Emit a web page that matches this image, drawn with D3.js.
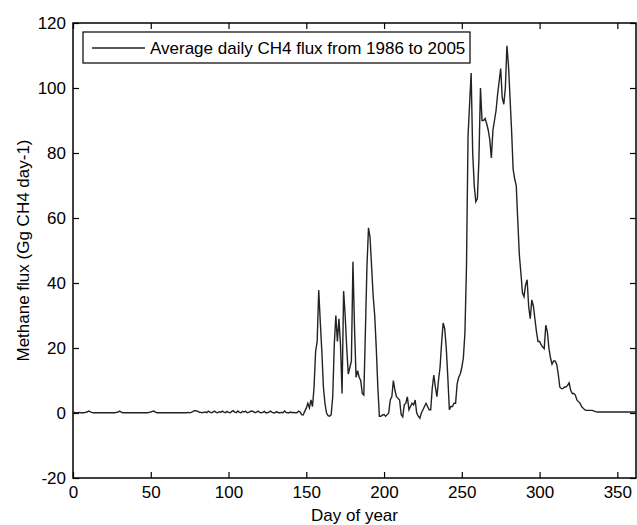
<!DOCTYPE html>
<html>
<head>
<meta charset="utf-8">
<script src="https://cdn.jsdelivr.net/npm/d3@7"></script>
<style>
    body { margin: 0; background: #fff; }
    text { font-family: "Liberation Sans", Arial, sans-serif; fill: #000; }
</style>
</head>
<body>
<div id="flux"><svg></svg></div>
<script>
// Average daily CH4 flux, one value per day starting at day 0
let firstDay = 0
let fluxValues = [
    0.1, 0.2, 0.1, 0.1, 0.2, 0.1, 0.1, 0.1, 0.2, 0.3,
    0.6, 0.4, 0.2, 0.1, 0.1, 0.1, 0.1, 0.1, 0.1, 0.1,
    0.1, 0.1, 0.1, 0.1, 0.1, 0.1, 0.1, 0.1, 0.2, 0.3,
    0.6, 0.3, 0.1, 0.1, 0.1, 0.1, 0.1, 0.1, 0.1, 0.1,
    0.1, 0.1, 0.1, 0.1, 0.1, 0.1, 0.1, 0.1, 0.1, 0.2,
    0.3, 0.5, 0.6, 0.3, 0.1, 0.1, 0.1, 0.1, 0.1, 0.1,
    0.1, 0.1, 0.1, 0.1, 0.1, 0.1, 0.1, 0.1, 0.1, 0.1,
    0.1, 0.1, 0.1, 0.1, 0.2, 0.1, 0.2, 0.4, 0.7, 0.7,
    0.6, 0.3, 0.2, 0.1, 0.2, 0.3, 0.1, 0.6, 0.3, 0.1,
    0.3, 0.6, 0.2, 0.1, 0.4, 0.2, 0.6, 0.3, 0.1, 0.5,
    0.2, 0.1, 0.4, 0.7, 0.3, 0.1, 0.6, 0.2, 0.1, 0.5,
    0.3, 0.6, 0.1, 0.2, 0.5, 0.6, 0.4, 0.1, 0.3, 0.6,
    0.2, 0.1, 0.2, 0.5, 0.1, 0.1, 0.3, 0.6, 0.2, 0.1,
    0.1, 0.4, 0.1, 0.1, 0.2, 0.1, 0.6, 0.2, 0.1, 0.1,
    0.3, 0.1, 0.2, 0.1, 0.1, 0.6, 0.3, -0.5, -0.6, 0.5,
    1.5, 3.0, 1.6, 4.0, 2.0, 8, 19, 22, 37.8, 28,
    19, 8, 3, 0, -0.8, -1, -0.5, 5, 21, 30,
    22, 29, 21, 6, 37.5, 30, 20, 12, 14, 16,
    46.5, 26.5, 11, 13, 11, 10, 6, 5.5, 25, 45,
    57, 54, 45, 36, 30, 20, 8, -1, -1, -0.6,
    -0.5, -1, -0.5, 0, 4, 5, 10, 7, 5, 4.5,
    4, -0.5, -1.2, 2.5, 3, 5, 1, 2, 3, 2.5,
    4, 0, -1, -1.6, 0, 1, 2, 3, 2, 1,
    1, 7.7, 11.7, 8, 5, 10, 14, 21.5, 27.7, 26,
    20, 11, 1, 2, 2, 3, 3, 9, 11, 12,
    14, 17, 24.6, 45, 85, 95, 104.6, 80, 70, 65,
    66, 78, 100, 90, 90, 90.6, 89, 87, 84, 78.5,
    87, 90, 93, 98, 102, 106, 97, 95, 100, 113,
    107, 97, 87, 75, 72, 70, 59, 48.6, 43, 37,
    35.8, 39.4, 41, 32.7, 29, 34.8, 33, 29, 25, 22,
    22, 21, 20.3, 19.8, 27, 25, 20, 17, 15, 16,
    16, 15, 12, 8, 7.5, 7.5, 8, 8, 8.5, 9.3,
    7, 6, 6, 5.5, 4, 3.5, 3, 2, 1.5, 1,
    0.8, 0.8, 0.8, 0.8, 0.8, 0.6, 0.4, 0.3, 0.3, 0.3,
    0.3, 0.3, 0.3, 0.3, 0.3, 0.3, 0.3, 0.3, 0.3, 0.3,
    0.3, 0.3, 0.3, 0.3, 0.3, 0.3, 0.3, 0.3, 0.3, 0.3,
    0.3, 0.3, 0.3
]

let xTicks = [0, 50, 100, 150, 200, 250, 300, 350]
let yTicks = [-20, 0, 20, 40, 60, 80, 100, 120]
let xDomain = [0, 362]
let yDomain = [-20, 120]

let legendLabel = "Average daily CH4 flux from 1986 to 2005"
let xLabel = "Day of year"
let yLabel = "Methane flux (Gg CH4 day-1)"

class FluxChart {
    constructor(values) {
        this.data = values.map((v, i) => ({ day: firstDay + i, flux: v }))

        this.margins = {
            top: 23,
            right: 1,
            bottom: 47,
            left: 73
        }

        this.dimensions = {
            width: 637 - 73 - 1,
            height: 525 - 23 - 47
        }

        this.fontSize = "17px"

        this.setUp()
    }

    setUp() {
        let svg = d3.select("#flux")
            .select("svg")
            .attr("width", this.margins.left + this.dimensions.width + this.margins.right)
            .attr("height", this.margins.top + this.dimensions.height + this.margins.bottom)
            .style("display", "block")

        let plot = svg.append("g")
            .attr("transform", "translate(" + this.margins.left + "," + this.margins.top + ")")

        this.x = d3.scaleLinear().domain(xDomain).range([0, this.dimensions.width])
        this.y = d3.scaleLinear().domain(yDomain).range([this.dimensions.height, 0])

        this.setUpAxes(plot)
        this.drawLine(plot)
        this.drawLegend(plot)
        this.drawLabels(svg)
    }

    setUpAxes(plot) {
        let w = this.dimensions.width
        let h = this.dimensions.height
        let fontSize = this.fontSize

        // ticks point inwards like MATLAB
        let style = g => {
            g.select(".domain").remove()
            g.selectAll("line").attr("stroke", "#000").attr("stroke-width", 1.2)
            g.selectAll("text").style("font-size", fontSize).attr("fill", "#000")
        }

        // plain hyphen for negatives, as in the original
        let plain = d => String(d)

        plot.append("g")
            .attr("transform", "translate(0," + h + ")")
            .call(d3.axisBottom(this.x).tickValues(xTicks).tickFormat(plain).tickSizeInner(-6).tickSizeOuter(0).tickPadding(8))
            .call(style)

        plot.append("g")
            .call(d3.axisTop(this.x).tickValues(xTicks).tickSizeInner(-6).tickSizeOuter(0).tickFormat(""))
            .call(style)

        plot.append("g")
            .call(d3.axisLeft(this.y).tickValues(yTicks).tickFormat(plain).tickSizeInner(-6).tickSizeOuter(0).tickPadding(7))
            .call(style)

        plot.append("g")
            .attr("transform", "translate(" + w + ",0)")
            .call(d3.axisRight(this.y).tickValues(yTicks).tickSizeInner(-6).tickSizeOuter(0).tickFormat(""))
            .call(style)

        // box round the plot
        plot.append("rect")
            .attr("width", w)
            .attr("height", h)
            .attr("fill", "none")
            .attr("stroke", "#000")
            .attr("stroke-width", 1.5)
    }

    drawLine(plot) {
        let line = d3.line()
            .x(d => this.x(d.day))
            .y(d => this.y(d.flux))

        plot.append("path")
            .datum(this.data)
            .attr("d", line)
            .attr("fill", "none")
            .attr("stroke", "#222")
            .attr("stroke-width", 1.4)
    }

    drawLegend(plot) {
        let legend = plot.append("g")
            .attr("transform", "translate(10,9)")

        legend.append("rect")
            .attr("width", 387)
            .attr("height", 31)
            .attr("fill", "#fff")
            .attr("stroke", "#000")
            .attr("stroke-width", 1.2)

        legend.append("line")
            .attr("x1", 9).attr("x2", 62)
            .attr("y1", 16).attr("y2", 16)
            .attr("stroke", "#222")
            .attr("stroke-width", 1.3)

        legend.append("text")
            .attr("x", 67)
            .attr("y", 22)
            .style("font-size", this.fontSize)
            .text(legendLabel)
    }

    drawLabels(svg) {
        svg.append("text")
            .attr("x", this.margins.left + this.dimensions.width / 2)
            .attr("y", 521)
            .attr("text-anchor", "middle")
            .style("font-size", this.fontSize)
            .text(xLabel)

        svg.append("text")
            .attr("transform", "translate(29," + (this.margins.top + this.dimensions.height / 2) + ") rotate(-90)")
            .attr("text-anchor", "middle")
            .style("font-size", this.fontSize)
            .text(yLabel)
    }
}

new FluxChart(fluxValues)
</script>
</body>
</html>
